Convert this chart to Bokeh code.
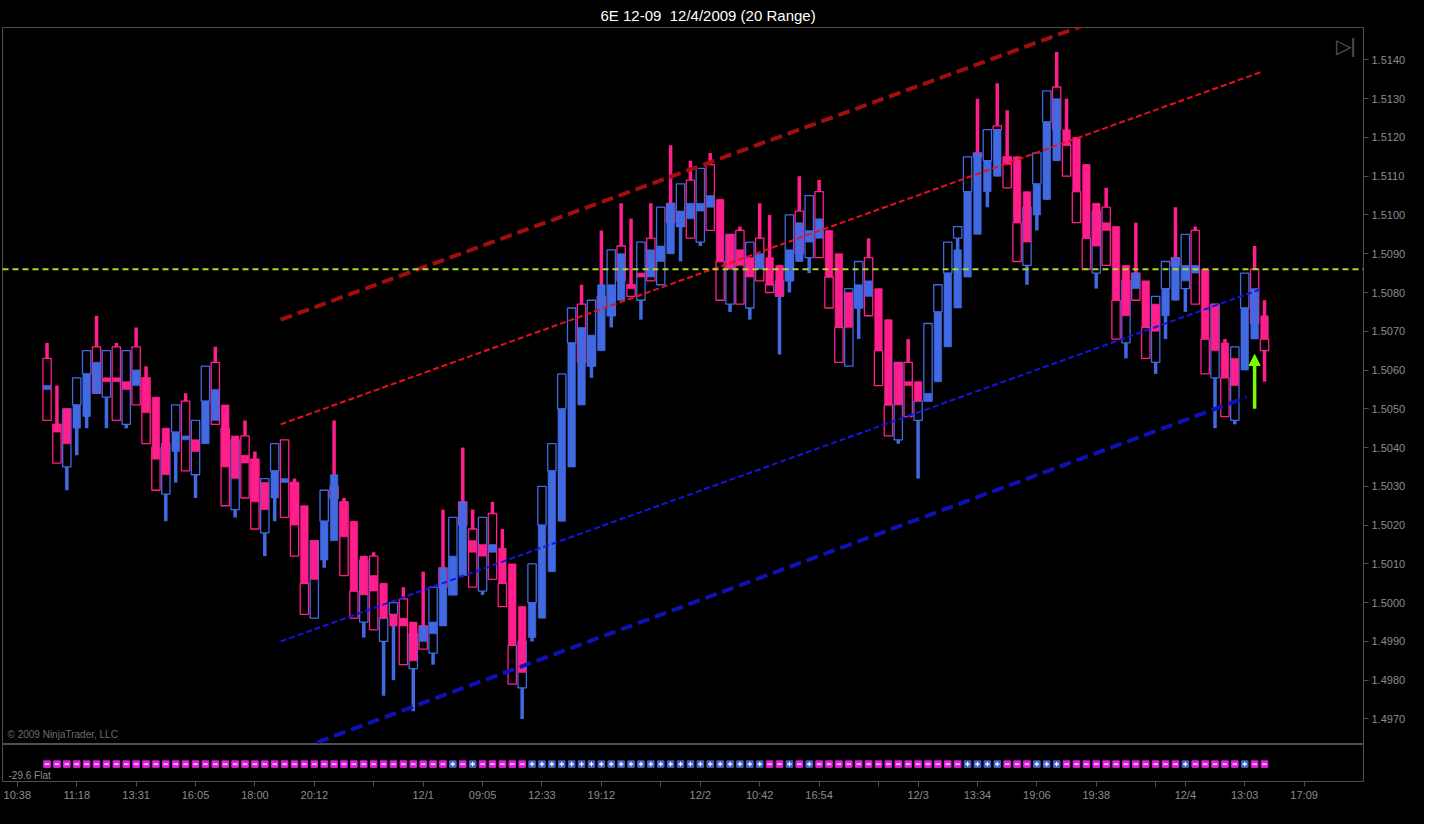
from bokeh.plotting import figure
from bokeh.layouts import column
from bokeh.models import (ColumnDataSource, FixedTicker, NumeralTickFormatter, Span,
                          Label, Arrow, NormalHead, Range1d)
from bokeh.embed import file_html
from bokeh.resources import INLINE

TITLE = "6E 12-09\u00a0 12/4/2009 (20 Range)"

# ---------------- data ----------------
high = [1.5067, 1.5056, 1.5050, 1.5058, 1.5065, 1.5074, 1.5065, 1.5067, 1.5065, 1.5071,
        1.5061, 1.5053, 1.5045, 1.5051, 1.5054, 1.5047, 1.5061, 1.5066, 1.5051, 1.5043,
        1.5047, 1.5039, 1.5032, 1.5041, 1.5042, 1.5032, 1.5025, 1.5016, 1.5029, 1.5047,
        1.5027, 1.5021, 1.5012, 1.5013, 1.5005, 1.5000, 1.5004, 1.4995, 1.5008, 1.5004,
        1.5024, 1.5022, 1.5040, 1.5024, 1.5022, 1.5026, 1.5019, 1.5010, 1.4999, 1.5010,
        1.5030, 1.5041, 1.5059, 1.5076, 1.5082, 1.5078, 1.5096, 1.5091, 1.5103, 1.5099,
        1.5093, 1.5103, 1.5102, 1.5118, 1.5108, 1.5114, 1.5112, 1.5116, 1.5104, 1.5095,
        1.5097, 1.5093, 1.5103, 1.5100, 1.5087, 1.5100, 1.5110, 1.5105, 1.5109, 1.5096,
        1.5090, 1.5081, 1.5088, 1.5094, 1.5081, 1.5073, 1.5062, 1.5068, 1.5057, 1.5072,
        1.5082, 1.5093, 1.5097, 1.5115, 1.5130, 1.5122, 1.5134, 1.5127, 1.5115, 1.5106,
        1.5116, 1.5132, 1.5142, 1.5130, 1.5120, 1.5113, 1.5103, 1.5107, 1.5097, 1.5087,
        1.5098, 1.5083, 1.5079, 1.5088, 1.5102, 1.5095, 1.5097, 1.5086, 1.5077, 1.5068,
        1.5066, 1.5085, 1.5092, 1.5078]
low = [1.5047, 1.5036, 1.5029, 1.5038, 1.5045, 1.5054, 1.5045, 1.5047, 1.5045, 1.5051,
       1.5041, 1.5029, 1.5021, 1.5031, 1.5034, 1.5027, 1.5041, 1.5046, 1.5025, 1.5022,
       1.5027, 1.5019, 1.5012, 1.5021, 1.5022, 1.5012, 1.4997, 1.4996, 1.5009, 1.5016,
       1.5007, 1.4996, 1.4991, 1.4993, 1.4976, 1.4980, 1.4984, 1.4972, 1.4988, 1.4984,
       1.4994, 1.5002, 1.5007, 1.5004, 1.5002, 1.5006, 1.4999, 1.4979, 1.4970, 1.4990,
       1.4996, 1.5008, 1.5021, 1.5035, 1.5051, 1.5058, 1.5065, 1.5071, 1.5078, 1.5079,
       1.5073, 1.5083, 1.5082, 1.5090, 1.5088, 1.5094, 1.5092, 1.5096, 1.5078, 1.5075,
       1.5077, 1.5073, 1.5083, 1.5080, 1.5064, 1.5080, 1.5088, 1.5085, 1.5089, 1.5076,
       1.5062, 1.5061, 1.5068, 1.5074, 1.5056, 1.5043, 1.5041, 1.5048, 1.5032, 1.5052,
       1.5057, 1.5066, 1.5076, 1.5084, 1.5095, 1.5102, 1.5110, 1.5107, 1.5088, 1.5082,
       1.5096, 1.5104, 1.5114, 1.5110, 1.5098, 1.5086, 1.5081, 1.5087, 1.5068, 1.5063,
       1.5078, 1.5063, 1.5059, 1.5068, 1.5078, 1.5075, 1.5077, 1.5059, 1.5045, 1.5048,
       1.5046, 1.5060, 1.5068, 1.5057]
box_top = [1.5063, 1.5046, 1.5050, 1.5058, 1.5065, 1.5066, 1.5065, 1.5066, 1.5065, 1.5066,
           1.5058, 1.5040, 1.5041, 1.5051, 1.5052, 1.5047, 1.5061, 1.5062, 1.5045, 1.5042,
           1.5043, 1.5037, 1.5032, 1.5041, 1.5042, 1.5031, 1.5005, 1.5016, 1.5029, 1.5030,
           1.5026, 1.5003, 1.5011, 1.5012, 1.4996, 1.5000, 1.5001, 1.4992, 1.4994, 1.5004,
           1.5009, 1.5022, 1.5026, 1.5019, 1.5022, 1.5023, 1.5005, 1.4989, 1.4990, 1.5010,
           1.5030, 1.5041, 1.5059, 1.5076, 1.5077, 1.5078, 1.5079, 1.5091, 1.5092, 1.5082,
           1.5093, 1.5094, 1.5102, 1.5103, 1.5108, 1.5109, 1.5112, 1.5113, 1.5088, 1.5095,
           1.5096, 1.5093, 1.5094, 1.5082, 1.5083, 1.5100, 1.5101, 1.5105, 1.5106, 1.5084,
           1.5071, 1.5081, 1.5088, 1.5089, 1.5065, 1.5051, 1.5062, 1.5062, 1.5052, 1.5072,
           1.5082, 1.5093, 1.5097, 1.5115, 1.5116, 1.5122, 1.5123, 1.5115, 1.5098, 1.5102,
           1.5116, 1.5132, 1.5133, 1.5118, 1.5106, 1.5094, 1.5101, 1.5102, 1.5078, 1.5083,
           1.5085, 1.5071, 1.5079, 1.5088, 1.5089, 1.5095, 1.5096, 1.5068, 1.5077, 1.5058,
           1.5066, 1.5085, 1.5086, 1.5068]
box_bot = [1.5047, 1.5036, 1.5035, 1.5051, 1.5059, 1.5054, 1.5053, 1.5047, 1.5046, 1.5051,
           1.5041, 1.5029, 1.5028, 1.5044, 1.5034, 1.5033, 1.5052, 1.5046, 1.5025, 1.5024,
           1.5027, 1.5019, 1.5018, 1.5034, 1.5022, 1.5012, 1.4997, 1.4996, 1.5021, 1.5027,
           1.5007, 1.4996, 1.4995, 1.4993, 1.4990, 1.4997, 1.4984, 1.4983, 1.4988, 1.4987,
           1.5004, 1.5002, 1.5020, 1.5004, 1.5003, 1.5006, 1.4999, 1.4979, 1.4978, 1.5000,
           1.5020, 1.5034, 1.5050, 1.5067, 1.5062, 1.5061, 1.5076, 1.5074, 1.5083, 1.5079,
           1.5078, 1.5083, 1.5082, 1.5098, 1.5097, 1.5094, 1.5093, 1.5096, 1.5078, 1.5077,
           1.5077, 1.5076, 1.5083, 1.5080, 1.5079, 1.5083, 1.5090, 1.5089, 1.5089, 1.5076,
           1.5062, 1.5061, 1.5076, 1.5074, 1.5056, 1.5043, 1.5042, 1.5048, 1.5047, 1.5052,
           1.5075, 1.5085, 1.5094, 1.5106, 1.5115, 1.5114, 1.5122, 1.5107, 1.5088, 1.5087,
           1.5108, 1.5124, 1.5122, 1.5110, 1.5098, 1.5086, 1.5085, 1.5087, 1.5068, 1.5067,
           1.5078, 1.5063, 1.5062, 1.5081, 1.5087, 1.5081, 1.5077, 1.5059, 1.5058, 1.5048,
           1.5047, 1.5076, 1.5072, 1.5065]
box_dir = list("PPBBBPBPBP" "PPBBPBBPPB" "PPBBPPPBBP" "PPBPBBPBPB" "PBPPBPPPBB"
               "BBBBPBPBPP" "BPBPBPBPPB" "PBPPBBPBPP" "PBBPPPBPBB" "BBBBPBPPPB"
               "BBPPPPBPPB" "PPBBPBPPBP" "BBPP")
fill_top = [1.5056, 1.5046, 1.5050, 1.5051, 1.5059, 1.5062, 1.5058, 1.5058, 1.5057, 1.5060,
            1.5058, 1.5053, 1.5045, 1.5044, 1.5043, 1.5042, 1.5052, 1.5055, 1.5051, 1.5043,
            1.5038, 1.5037, 1.5031, 1.5034, 1.5032, 1.5031, 1.5025, 1.5016, 1.5021, 1.5033,
            1.5026, 1.5021, 1.5012, 1.5007, 1.5005, 1.4997, 1.4996, 1.4995, 1.4994, 1.4995,
            1.5009, 1.5012, 1.5026, 1.5016, 1.5015, 1.5015, 1.5014, 1.5010, 1.4999, 1.5000,
            1.5020, 1.5034, 1.5050, 1.5067, 1.5071, 1.5069, 1.5082, 1.5082, 1.5090, 1.5082,
            1.5085, 1.5091, 1.5092, 1.5103, 1.5101, 1.5103, 1.5103, 1.5105, 1.5104, 1.5095,
            1.5091, 1.5089, 1.5090, 1.5089, 1.5087, 1.5091, 1.5098, 1.5096, 1.5099, 1.5096,
            1.5090, 1.5080, 1.5082, 1.5083, 1.5081, 1.5073, 1.5062, 1.5057, 1.5057, 1.5054,
            1.5075, 1.5085, 1.5091, 1.5106, 1.5116, 1.5114, 1.5122, 1.5115, 1.5115, 1.5106,
            1.5108, 1.5124, 1.5130, 1.5122, 1.5120, 1.5113, 1.5103, 1.5098, 1.5097, 1.5087,
            1.5085, 1.5083, 1.5077, 1.5081, 1.5089, 1.5087, 1.5087, 1.5086, 1.5077, 1.5067,
            1.5063, 1.5076, 1.5081, 1.5074]
fill_bot = [1.5055, 1.5044, 1.5041, 1.5045, 1.5048, 1.5054, 1.5057, 1.5057, 1.5055, 1.5056,
            1.5049, 1.5037, 1.5033, 1.5039, 1.5042, 1.5039, 1.5041, 1.5047, 1.5035, 1.5032,
            1.5036, 1.5026, 1.5024, 1.5027, 1.5031, 1.5020, 1.5005, 1.5006, 1.5011, 1.5016,
            1.5017, 1.5003, 1.5002, 1.5003, 1.4996, 1.4994, 1.4994, 1.4985, 1.4990, 1.4992,
            1.4994, 1.5002, 1.5007, 1.5013, 1.5012, 1.5013, 1.5005, 1.4989, 1.4982, 1.4991,
            1.4996, 1.5008, 1.5021, 1.5035, 1.5051, 1.5061, 1.5065, 1.5074, 1.5078, 1.5081,
            1.5084, 1.5084, 1.5088, 1.5090, 1.5097, 1.5099, 1.5101, 1.5102, 1.5088, 1.5086,
            1.5087, 1.5084, 1.5086, 1.5082, 1.5079, 1.5083, 1.5088, 1.5093, 1.5094, 1.5084,
            1.5071, 1.5071, 1.5076, 1.5079, 1.5065, 1.5051, 1.5051, 1.5056, 1.5052, 1.5052,
            1.5057, 1.5066, 1.5076, 1.5084, 1.5095, 1.5106, 1.5110, 1.5113, 1.5098, 1.5093,
            1.5100, 1.5104, 1.5114, 1.5118, 1.5106, 1.5094, 1.5092, 1.5096, 1.5078, 1.5074,
            1.5081, 1.5071, 1.5070, 1.5074, 1.5078, 1.5083, 1.5085, 1.5068, 1.5065, 1.5058,
            1.5056, 1.5060, 1.5068, 1.5068]
fill_dir = list("BPPBBBPPPB" "PPPBBPBBPP" "PPPBBPPPBB" "PPPPPPPPBB" "BBBPPBPPPB"
                "BBBBBBBBBP" "PBBBBBBBPP" "PPBPPBBBBP" "PPBBPPPPPB" "BBBBBBBPPP"
                "BBBPPPPPPP" "BPPBBBBPPP" "PBBP")
trend_sign = list("----------" "----------" "----------" "----------" "-+-+-----+"
                  "++++++++++" "++++++++++" "+++--+-+--" "----------" "---++++---"
                  "+++-------" "-----+----" "-+--")
bars = list(range(len(high)))

# channel lines (bar index, price)
upper_outer_x = [23.6, 123.0]
upper_outer_y = [1.5073, 1.5166]
upper_inner_x = [23.6, 122.8]
upper_inner_y = [1.5046, 1.5137]
lower_inner_x = [23.6, 122.8]
lower_inner_y = [1.4990, 1.5081]
lower_outer_x = [27.3, 121.2]
lower_outer_y = [1.4964, 1.5053]
level_price = 1.5086
last_price = 1.5065
signal_bar = 122
signal_from = 1.5050
signal_to = 1.5064

price_ticks = [1.4970, 1.4980, 1.4990, 1.5000, 1.5010, 1.5020, 1.5030, 1.5040, 1.5050,
               1.5060, 1.5070, 1.5080, 1.5090, 1.5100, 1.5110, 1.5120, 1.5130, 1.5140]
time_tick_pos = [-3, 3, 9, 15, 21, 27, 33, 38, 44, 50, 56, 62, 66, 72, 78, 84, 88, 94,
                 100, 106, 112, 115, 121, 127]
time_tick_labels = ["10:38", "11:18", "13:31", "16:05", "18:00", "20:12", "", "12/1",
                    "09:05", "12:33", "19:12", "", "12/2", "10:42", "16:54", "", "12/3",
                    "13:34", "19:06", "19:38", "", "12/4", "13:03", "17:09"]

# ---------------- styling ----------------
PINK = "#FF1E8C"
BLUE = "#4169E1"
SQ_PINK = "#E020E0"
SQ_BLUE = "#4763CC"
GRID = "#505050"
TXT = "#8c8c8c"
FONT = "Liberation Sans"

X0, X1 = -4.5, 133.0
Y0, Y1 = 1.496342, 1.514835
xr = Range1d(X0, X1)
yr = Range1d(Y0, Y1)

p = figure(frame_width=1361, frame_height=717, x_range=xr, y_range=yr,
           output_backend="svg", toolbar_location=None,
           x_axis_location=None, y_axis_location="right",
           background_fill_color="black", border_fill_color="black",
           min_border_left=2, min_border_right=61, min_border_top=27, min_border_bottom=0,
           outline_line_color=GRID)
p.grid.visible = False

p.title.text = TITLE
p.title.align = "left"
p.title.offset = 598
p.title.standoff = 8
p.title.text_color = "white"
p.title.text_font = FONT
p.title.text_font_size = "15px"
p.title.text_font_style = "normal"

ax = p.yaxis[0]
ax.ticker = FixedTicker(ticks=price_ticks)
ax.formatter = NumeralTickFormatter(format="0.0000")
ax.axis_line_color = GRID
ax.major_tick_line_color = GRID
ax.major_tick_out = 5
ax.major_tick_in = 0
ax.minor_tick_line_color = None
ax.major_label_text_color = TXT
ax.major_label_text_font = FONT
ax.major_label_text_font_size = "11px"
ax.major_label_standoff = 3

src = ColumnDataSource(dict(
    x=bars, high=high, low=low, bt=box_top, bb=box_bot,
    bc=[PINK if d == "P" else BLUE for d in box_dir],
    ft=fill_top, fb=fill_bot,
    fc=[PINK if d == "P" else BLUE for d in fill_dir],
))
p.segment(x0="x", y0="low", x1="x", y1="high", line_color="bc", line_width=3.5, source=src)
p.vbar(x="x", width=0.84, top="bt", bottom="bb", fill_color="black",
       line_color="bc", line_width=1.3, source=src)
p.vbar(x="x", width=0.76, top="ft", bottom="fb", fill_color="fc",
       line_color="fc", line_width=0.6, source=src)

p.line(upper_outer_x, upper_outer_y, line_color="#A00E0E", line_width=4, line_dash="12 6")
p.line(upper_inner_x, upper_inner_y, line_color="#E8101A", line_width=2, line_dash="6 3")
p.line(lower_inner_x, lower_inner_y, line_color="#1414E6", line_width=2, line_dash="6 3")
p.line(lower_outer_x, lower_outer_y, line_color="#1010B8", line_width=4, line_dash="12 6")
p.add_layout(Span(location=level_price, dimension="width", line_color="#A8DC28",
                  line_width=2, line_dash="6 4"))

p.add_layout(Arrow(end=NormalHead(size=11, fill_color="#7CFC00", line_color="#7CFC00"),
                   x_start=signal_bar, y_start=signal_from, x_end=signal_bar, y_end=signal_to,
                   line_color="#7CFC00", line_width=3.5))

p.add_layout(Label(x=X1, y=last_price, x_offset=3, text=f"{last_price:.4f}",
                   text_baseline="middle", text_color="white", text_font=FONT,
                   text_font_size="11px", background_fill_color="black",
                   border_line_color="white", padding=2))
p.add_layout(Label(x=X0, y=Y0, x_offset=5, y_offset=5,
                   text="\u00a9 2009 NinjaTrader, LLC", text_color="#6e6e6e",
                   text_font=FONT, text_font_size="10px"))
p.add_layout(Label(x=131.2, y=1.51435, text="\u25b7|", text_align="center",
                   text_baseline="middle", text_color="#5a5a5a", text_font_size="20px"))

# ---------------- indicator panel ----------------
q = figure(frame_width=1361, frame_height=37, x_range=xr, y_range=Range1d(0, 1),
           output_backend="svg", toolbar_location=None, y_axis_location=None,
           background_fill_color="black", border_fill_color="black",
           min_border_left=2, min_border_right=61, min_border_top=0, min_border_bottom=43,
           outline_line_color=GRID)
q.grid.visible = False
isrc = ColumnDataSource(dict(
    x=bars, y=[0.47] * len(bars),
    c=[SQ_BLUE if s == "+" else SQ_PINK for s in trend_sign],
    m=["cross" if s == "+" else "dash" for s in trend_sign],
))
q.scatter(x="x", y="y", marker="square", size=6.5, fill_color="c", line_color="c", source=isrc)
q.scatter(x="x", y="y", marker="m", size=4.5, line_color="white", line_width=1.2, source=isrc)
q.add_layout(Label(x=X0, y=0, x_offset=6, y_offset=1, text="-29.6 Flat",
                   text_color=TXT, text_font=FONT, text_font_size="10px"))
q.add_layout(Label(x=X1, y=0.5, x_offset=8, text="0.25", text_baseline="middle",
                   text_color="#6a6a6a", text_font=FONT, text_font_size="9px",
                   border_line_color="#6a6a6a", padding=1))

xa = q.xaxis[0]
xa.ticker = FixedTicker(ticks=time_tick_pos)
xa.major_label_overrides = {t: l for t, l in zip(time_tick_pos, time_tick_labels)}
xa.axis_line_color = None
xa.major_tick_line_color = GRID
xa.major_tick_out = 5
xa.major_tick_in = 0
xa.minor_tick_line_color = None
xa.major_label_text_color = TXT
xa.major_label_text_font = FONT
xa.major_label_text_font_size = "11px"
xa.major_label_standoff = 2

layout = column(p, q, spacing=0, styles={"background-color": "black"})
open("out.html", "w").write(file_html(layout, INLINE, title="6E 12-09"))
